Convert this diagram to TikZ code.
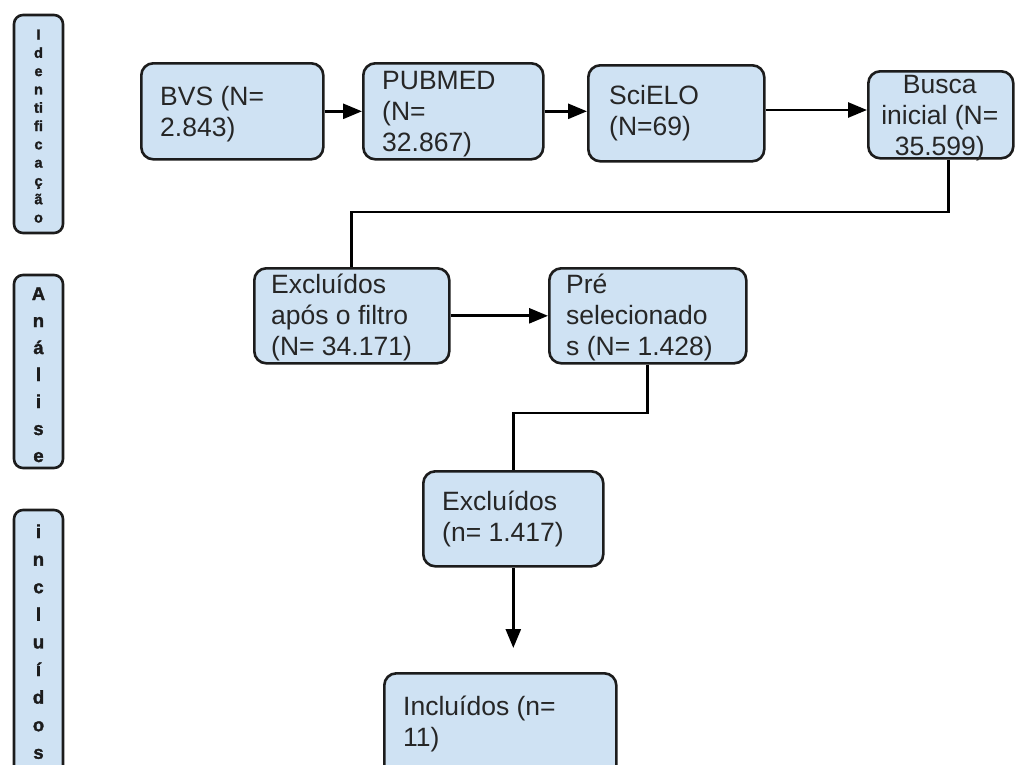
\documentclass[tikz,border=0pt]{standalone}
\usepackage{fontspec}
\setmainfont{Liberation Sans}
\newfontfamily\heavyfont{Liberation Sans}[BoldFeatures={FakeBold=1.6}]
\usetikzlibrary{arrows.meta,calc}
\definecolor{boxblue}{HTML}{CFE2F3}
\definecolor{edge}{HTML}{1C1C1C}
\definecolor{ink}{HTML}{262626}
\begin{document}
\begin{tikzpicture}[x=1pt,y=-1pt,
  flowbox/.style={draw=edge, line width=2.6pt, fill=boxblue, rounded corners=12pt, inner sep=0pt, anchor=north west},
  sidebar/.style={draw=edge, line width=2.6pt, fill=boxblue, rounded corners=9pt},
  txt/.style={anchor=west, align=left, inner sep=0pt, text=ink, font=\fontsize{26.5}{31}\selectfont},
  ctxt/.style={align=center, inner sep=0pt, text=ink, font=\fontsize{26.5}{31}\selectfont},
  conn/.style={draw=black, line width=2.7pt},
  arr/.style={conn, -{Triangle[length=19pt,width=15pt]}},
  lsmall/.style={anchor=base, inner sep=0pt, text=edge, font=\heavyfont\bfseries\fontsize{14.5}{14.5}\selectfont},
  lbig/.style={anchor=base, inner sep=0pt, text=edge, font=\heavyfont\bfseries\fontsize{18.5}{18.5}\selectfont}]
\useasboundingbox (0,0) rectangle (1016,764);
% side bars
\begin{scope}
\clip (0,0) rectangle (1016,764);
\draw[sidebar] (14,15) rectangle (63,233);
\draw[sidebar] (14,275) rectangle (63,468);
\draw[sidebar] (14,510) rectangle (63,800);
\end{scope}
\foreach \l [count=\i] in {I,d,e,n,ti,fi,c,a,ç,ã,o}
  \node[lsmall] (id\i) at (38.5,{39.5+18.3*(\i-1)}) {\l};
\foreach \l [count=\i] in {A,n,á,l,i,s,e}
  \node[lbig] (an\i) at (38.5,{300+27*(\i-1)}) {\l};
\foreach \l [count=\i] in {i,n,c,l,u,í,d,o,s}
  \node[lbig] (in\i) at (38.5,{538+27.6*(\i-1)}) {\l};
% boxes
\node[flowbox, minimum width=182pt, minimum height=96pt] (bvs) at (140,62) {};
\node[flowbox, minimum width=180pt, minimum height=96pt] (pub) at (362,62) {};
\node[flowbox, minimum width=176pt, minimum height=96pt] (sci) at (587,64) {};
\begin{scope}
\clip (0,0) rectangle (1016,764);
\node[flowbox, minimum width=145pt, minimum height=87pt] (busca) at (867,70) {};
\node[flowbox, minimum width=232pt, minimum height=110pt] (inc) at (383,672) {};
\end{scope}
\node[flowbox, minimum width=195pt, minimum height=95pt] (exc1) at (253,267) {};
\node[flowbox, minimum width=197pt, minimum height=95pt] (pre) at (548,267) {};
\node[flowbox, minimum width=180pt, minimum height=95pt] (exc2) at (422,470) {};
% texts
\node[txt] (bvs-t) at ($(bvs.west)+(20,3)$) {BVS (N=\\2.843)};
\node[txt] (pub-t) at ($(pub.west)+(20,3)$) {PUBMED\\(N=\\32.867)};
\node[txt] (sci-t) at ($(sci.west)+(22,0)$) {SciELO\\(N=69)};
\node[ctxt] (busca-t) at ($(busca.center)+(-1,3)$) {Busca\\inicial (N=\\35.599)};
\node[txt] (exc1-t) at ($(exc1.west)+(18,2)$) {Excluídos\\após o filtro\\(N= 34.171)};
\node[txt] (pre-t) at ($(pre.west)+(18,2)$) {Pré\\selecionado\\s (N= 1.428)};
\node[txt] (exc2-t) at ($(exc2.west)+(20,0)$) {Excluídos\\(n= 1.417)};
\node[txt] (inc-t) at ($(inc.north west)+(20,52)$) {Incluídos (n=\\11)};
% connectors
\draw[arr] (bvs.east) -- (pub.west);
\draw[arr] (pub.east) -- (pub.east -| sci.west);
\draw[arr] (sci.east |- 0,110) -- (busca.west |- 0,110);
\draw[conn] ([xshift=8pt]busca.south) -- ([xshift=8pt]busca.south |- 0,212) -| (exc1.north);
\draw[arr] (exc1.east) -- (pre.west);
\draw[conn] (pre.south) -- (pre.south |- 0,413) -| (exc2.north);
\coordinate (tip) at (512,648);
\draw[arr] (exc2.south) -- (exc2.south |- tip);
\end{tikzpicture}
\end{document}
